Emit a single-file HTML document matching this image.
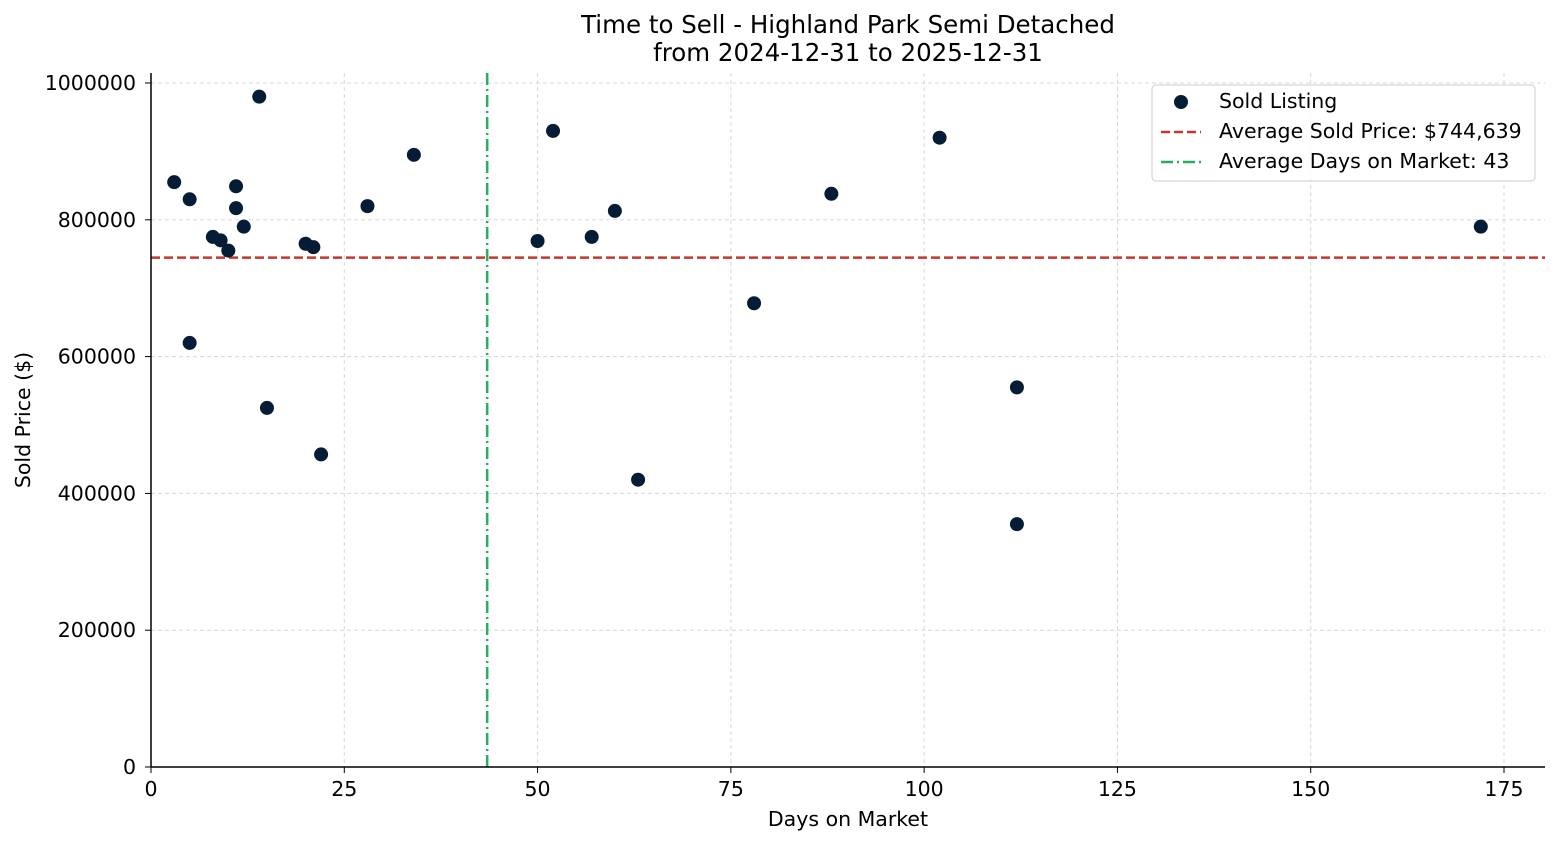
<!DOCTYPE html>
<html><head><meta charset="utf-8"><style>
html,body{margin:0;padding:0;background:#fff;}
svg text{font-family:"DejaVu Sans","Liberation Sans",sans-serif;fill:#000;}
</style></head><body>
<svg id="chart" width="1560" height="845" xmlns="http://www.w3.org/2000/svg">
<g id="grid"></g>
<g id="lines"></g>
<g id="points"></g>
<g id="axes"></g>
<text x="848" y="33" font-size="24.5" text-anchor="middle">Time to Sell - Highland Park Semi Detached</text>
<text x="848" y="61" font-size="24.5" text-anchor="middle">from 2024-12-31 to 2025-12-31</text>
<text x="848" y="826" font-size="20.5" text-anchor="middle">Days on Market</text>
<text transform="translate(30,420) rotate(-90)" font-size="20.5" text-anchor="middle">Sold Price ($)</text>
<g>
<rect x="1152" y="85" width="383" height="96" rx="4" fill="#fff" fill-opacity="0.85" stroke="#ccc"/>
<circle cx="1181" cy="102" r="7" fill="#051c36"/>
<text x="1219" y="108" font-size="20.5">Sold Listing</text>
<line x1="1161" y1="132" x2="1201" y2="132" stroke="#c0392b" stroke-width="2.5" stroke-dasharray="9,4"/>
<text id="leg-price" x="1219" y="138" font-size="20.5">Average Sold Price: $744,639</text>
<line x1="1161" y1="162" x2="1201" y2="162" stroke="#27ae60" stroke-width="2.5" stroke-dasharray="12,4,2,4"/>
<text id="leg-days" x="1219" y="168" font-size="20.5">Average Days on Market: 43</text>
</g>
</svg>
<script>
const days = [3,5,5,8,9,10,11,11,12,14,15,20,21,22,28,34,50,52,57,60,63,78,88,102,112,112,172];
const prices = [855000,830000,620000,775000,770000,755000,849000,817000,790000,980000,525000,765000,760000,457000,820000,895000,769000,930000,775000,813000,420000,678000,838000,920000,555000,355000,790000];
const avgPrice = 744639;
const xTicks = [0,25,50,75,100,125,150,175];
const yTicks = [0,200000,400000,600000,800000,1000000];
const NS="http://www.w3.org/2000/svg";
const L=151,R=1545,T=73,B=767;
const X=v=>L+v*(1504-151)/175;
const Y=v=>B-v*(767-83)/1000000;
function mk(p,tag,a){const e=document.createElementNS(NS,tag);for(const k in a)e.setAttribute(k,a[k]);p.appendChild(e);return e;}
const grid=document.getElementById('grid'),axes=document.getElementById('axes'),pts=document.getElementById('points'),lines=document.getElementById('lines');
xTicks.forEach(t=>{
 const g=mk(grid,'line',{x1:X(t),x2:X(t),y1:T,y2:B,stroke:'#d8d8d8','stroke-dasharray':'4,3','stroke-width':1});
 
 
 const tk=mk(axes,'line',{x1:X(t),x2:X(t),y1:B,y2:B+6,stroke:'#000'});
 
 
 const tx=mk(axes,'text',{x:X(t),y:B+29,'font-size':20.5,'text-anchor':'middle'});tx.textContent=t;
 
 
});
yTicks.forEach(t=>{
 const g=mk(grid,'line',{x1:L,x2:R,y1:Y(t),y2:Y(t),stroke:'#d8d8d8','stroke-dasharray':'4,3','stroke-width':1});
 
 
 const tk=mk(axes,'line',{x1:L-6,x2:L,y1:Y(t),y2:Y(t),stroke:'#000'});
 
 
 const tx=mk(axes,'text',{x:L-15,y:Y(t)+7,'font-size':20.5,'text-anchor':'end'});tx.textContent=t;
 
 
});
const la=mk(axes,'line',{x1:L,x2:L,y1:T,y2:B,stroke:'#000','stroke-width':1.5});


const ba=mk(axes,'line',{x1:L,x2:R,y1:B,y2:B,stroke:'#000','stroke-width':1.5});


const avgDays=days.reduce((a,b)=>a+b,0)/days.length;
const hl=mk(lines,'line',{x1:L,x2:R,y1:Y(avgPrice),y2:Y(avgPrice),stroke:'#c0392b','stroke-width':2.5,'stroke-dasharray':'9,4'});


const vl=mk(lines,'line',{x1:X(avgDays),x2:X(avgDays),y1:T,y2:B,stroke:'#27ae60','stroke-width':2.5,'stroke-dasharray':'12,4,2,4'});


document.getElementById('leg-price').textContent='Average Sold Price: $'+avgPrice.toLocaleString('en-US');
document.getElementById('leg-days').textContent='Average Days on Market: '+Math.round(avgDays);
days.forEach((d,i)=>{
 const c=mk(pts,'circle',{cx:X(d),cy:Y(prices[i]),r:7,fill:'#051c36'});
 
 
});
</script>
</body></html>
